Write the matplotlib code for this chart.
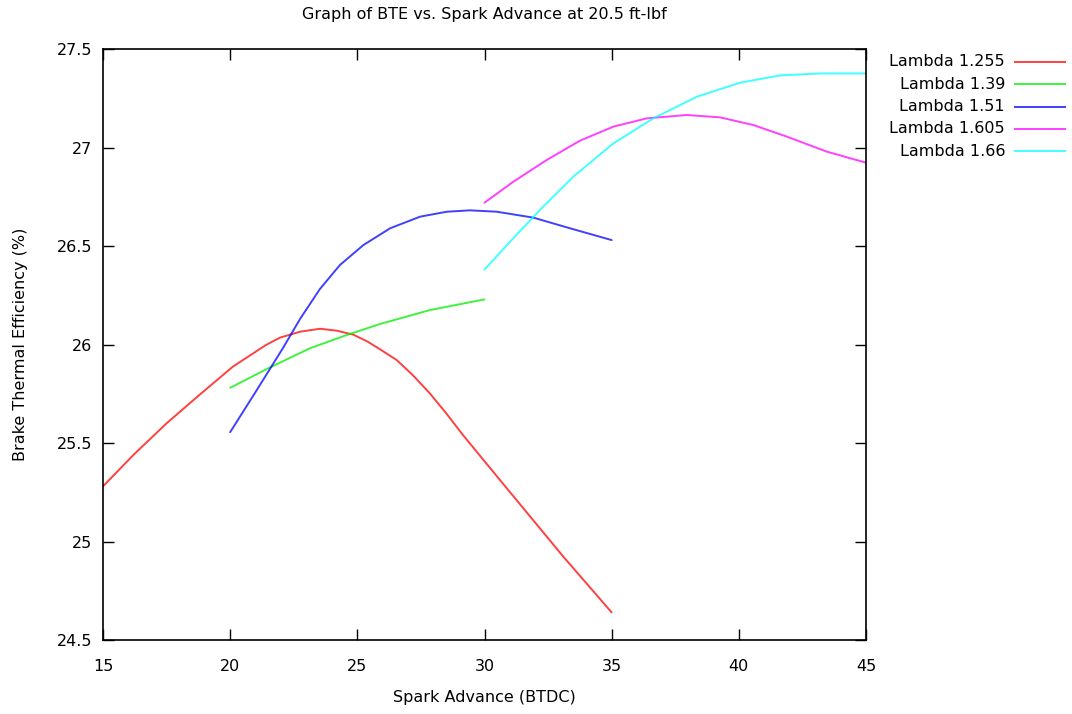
import matplotlib
matplotlib.use("Agg")
import matplotlib.pyplot as plt
from matplotlib.lines import Line2D

# Values (spark advance in deg BTDC, BTE in %)
lambda_1255_x = [15, 16.2, 17.5, 18.8, 20.1, 21.4, 21.96, 22.75, 23.53, 24.2, 24.84, 25.4, 25.9, 26.55,
                 27.2, 27.85, 28.5, 29.15, 30.5, 31.8, 33.1, 35]
lambda_1255_y = [25.28, 25.44, 25.60, 25.745, 25.887, 25.997, 26.035, 26.065, 26.08, 26.07, 26.05, 26.015,
                 25.975, 25.921, 25.842, 25.752, 25.65, 25.541, 25.329, 25.126, 24.923, 24.64]

lambda_139_x = [20, 21.57, 23.14, 24.58, 25.89, 27.86, 30]
lambda_139_y = [25.78, 25.884, 25.981, 26.048, 26.104, 26.175, 26.229]

lambda_151_x = [20, 20.95, 21.57, 22.09, 22.75, 23.53, 24.32, 25.24, 26.29, 27.47, 28.52, 29.43, 30.48,
                31.92, 33.36, 35]
lambda_151_y = [25.555, 25.749, 25.877, 25.985, 26.13, 26.282, 26.404, 26.505, 26.59, 26.649, 26.674,
                26.681, 26.674, 26.644, 26.59, 26.53]

lambda_1605_x = [30, 31.13, 32.45, 33.76, 35.07, 36.38, 37.95, 39.26, 40.57, 41.89, 43.46, 45]
lambda_1605_y = [26.72, 26.826, 26.937, 27.035, 27.106, 27.148, 27.165, 27.153, 27.114, 27.055, 26.979,
                 26.923]

lambda_166_x = [30, 31.1, 32.18, 33.49, 35.07, 36.64, 38.35, 40.05, 41.62, 43.2, 45]
lambda_166_y = [26.38, 26.535, 26.683, 26.852, 27.021, 27.148, 27.258, 27.329, 27.366, 27.376, 27.376]

series = [
    ("Lambda 1.255", lambda_1255_x, lambda_1255_y, "#ff0000"),
    ("Lambda 1.39", lambda_139_x, lambda_139_y, "#00ee00"),
    ("Lambda 1.51", lambda_151_x, lambda_151_y, "#0000ff"),
    ("Lambda 1.605", lambda_1605_x, lambda_1605_y, "#ff00ff"),
    ("Lambda 1.66", lambda_166_x, lambda_166_y, "#00ffff"),
]

x_ticks = [15, 20, 25, 30, 35, 40, 45]
y_ticks = [24.5, 25, 25.5, 26, 26.5, 27, 27.5]
y_tick_labels = ["24.5", "25", "25.5", "26", "26.5", "27", "27.5"]

FONT = 11.5

fig = plt.figure(figsize=(10.72, 7.14), dpi=100)
ax = fig.add_axes([103 / 1072, 74 / 714, 763 / 1072, 591 / 714])

for label, xs, ys, color in series:
    ax.plot(xs, ys, color=color, linewidth=1.4, alpha=0.75,
            solid_joinstyle="round", solid_capstyle="round")

ax.set_xlim(15, 45)
ax.set_ylim(24.5, 27.5)
ax.set_xticks(x_ticks)
ax.set_yticks(y_ticks)
ax.set_yticklabels(y_tick_labels)
ax.tick_params(direction="in", length=8, width=1, top=True, right=True,
               labelsize=FONT, colors="black")
ax.tick_params(axis="x", pad=14)
ax.tick_params(axis="y", pad=8)
for spine in ax.spines.values():
    spine.set_linewidth(1.2)

ax.set_xlabel("Spark Advance (BTDC)", fontsize=FONT)
ax.set_ylabel("Brake Thermal Efficiency (%)", fontsize=FONT)
ax.xaxis.set_label_coords(0.5, -0.085)
ax.yaxis.set_label_coords(-0.0985, 0.5)
fig.text(484 / 1072, 1 - 15 / 714, "Graph of BTE vs. Spark Advance at 20.5 ft-lbf",
         ha="center", va="center", fontsize=FONT)

# key drawn outside the plot, text right-aligned in front of each sample line
for i, (label, xs, ys, color) in enumerate(series):
    y_px = 62 + i * 22.3
    yf = 1 - y_px / 714
    fig.text(1005 / 1072, yf, label, ha="right", va="center", fontsize=FONT)
    fig.add_artist(Line2D([1015 / 1072, 1065 / 1072], [yf, yf], transform=fig.transFigure,
                          color=color, linewidth=1.4, alpha=0.75))

fig.savefig("out.png", dpi=100)
